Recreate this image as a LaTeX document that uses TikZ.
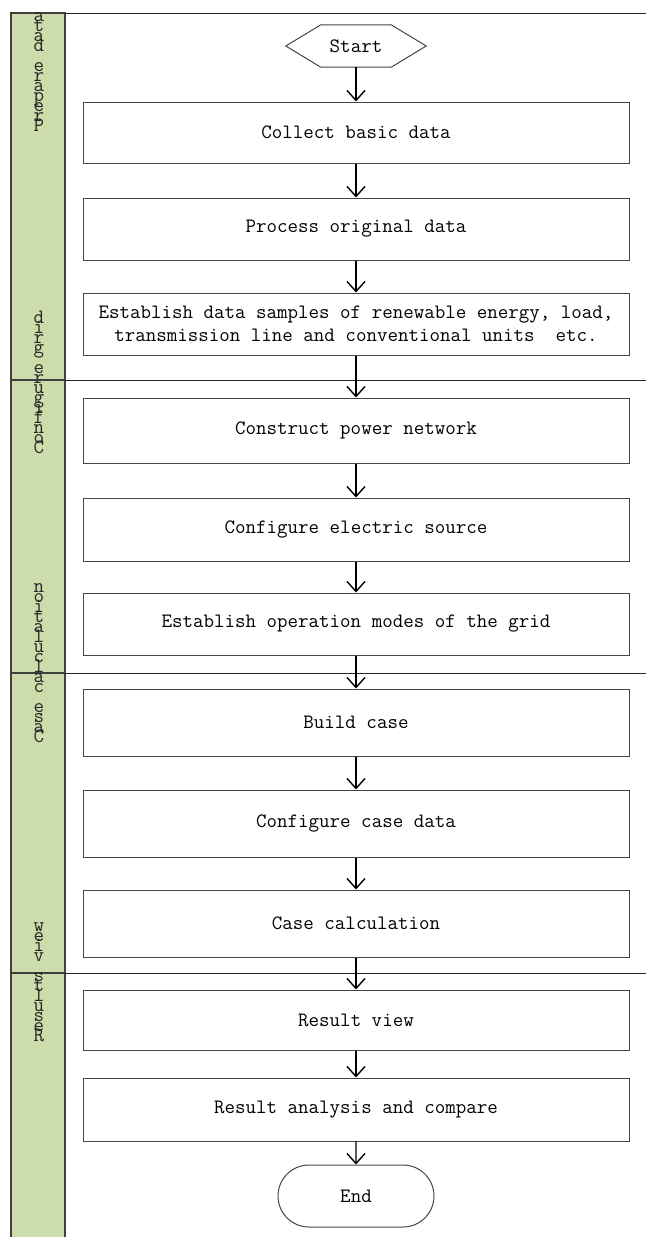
\documentclass[tikz,border=0pt]{standalone}
\usetikzlibrary{arrows.meta,shapes.misc}

\definecolor{lanegreen}{RGB}{204,220,170}
\definecolor{boxline}{RGB}{70,70,70}
\newcommand{\lanefont}{\ttfamily\fontsize{20.4}{10}\selectfont\lineskiplimit=-50pt\relax}

\tikzset{
  flowbox/.style={draw=boxline, line width=1pt, minimum width=546pt, minimum height=62pt,
    inner sep=0pt, align=center, text=black,
    font=\ttfamily\fontsize{20.4}{23}\selectfont},
  endbox/.style={flowbox, rounded rectangle, minimum width=156pt},
  flow/.style={line width=1.4pt, -{Straight Barb[length=10pt,width=18pt,line width=1.4pt]}},
  lanelabel/.style={anchor=north, inner sep=0pt, align=center, text=black!85,
    font=\lanefont},
  divider/.style={line width=1pt, black!85}
}

\begin{document}
\begin{tikzpicture}[x=1pt, y=-1pt]
\useasboundingbox (0,0) rectangle (646,1237);

% Lane column on the left
\fill[lanegreen] (11,13) rectangle (65,1237);
\draw[line width=1.3pt, black!75] (11,1237) -- (11,13) -- (65,13) -- (65,1237);

% Top line and lane dividers
\draw[divider] (65,13) -- (646,13);
\foreach \y in {380,673,973}
{
  \draw[divider] (11,\y) -- (646,\y);
  \draw[line width=2pt, black!75] (11,\y) -- (65,\y);
}

% Lane names (letters stacked bottom to top)
\node[lanelabel] (lane1) at (39,12) {a\\t\\a\\d\\~\\e\\r\\a\\p\\e\\r\\P};
\node[lanelabel] (lane2) at (39,311) {d\\i\\r\\g\\~\\e\\r\\u\\g\\i\\f\\n\\o\\C};
\node[lanelabel] (lane3) at (39,583) {n\\o\\i\\t\\a\\l\\u\\c\\l\\a\\c\\~\\e\\s\\a\\C};
\node[lanelabel] (lane4) at (39,922) {w\\e\\i\\v\\~\\s\\t\\l\\u\\s\\e\\R};

% Start (hexagon)
\node[minimum width=140pt, minimum height=42pt, inner sep=0pt, text=black,
  font=\ttfamily\fontsize{20.4}{23}\selectfont] (start) at (356,46) {Start};
\draw[boxline, line width=1pt] (start.west) -- ([xshift=35pt]start.north west)
  -- ([xshift=-35pt]start.north east) -- (start.east)
  -- ([xshift=-35pt]start.south east) -- ([xshift=35pt]start.south west) -- cycle;

% Steps
\node[flowbox, minimum height=61pt] (collect) at (356,132.5) {Collect basic data};
\node[flowbox] (process) at (356,229) {Process original data};
\node[flowbox] (samples) at (356,324) {Establish data samples of renewable energy, load,\\transmission line and conventional units\ \ etc.};
\node[flowbox, minimum height=65pt] (network) at (356,430.5) {Construct power network};
\node[flowbox, minimum height=63pt] (source) at (356,529.5) {Configure electric source};
\node[flowbox] (modes) at (356,624) {Establish operation modes of the grid};
\node[flowbox, minimum height=67pt] (build) at (356,722.5) {Build case};
\node[flowbox, minimum height=67pt] (casedata) at (356,823.5) {Configure case data};
\node[flowbox, minimum height=67pt] (calc) at (356,923.5) {Case calculation};
\node[flowbox, minimum height=60pt] (view) at (356,1020) {Result view};
\node[flowbox, minimum height=63pt] (analysis) at (356,1109.5) {Result analysis and compare};
\node[endbox] (end) at (356,1196) {End};

% Arrows
\foreach \a/\b in {start/collect, collect/process, process/samples, samples/network,
  network/source, source/modes, modes/build, build/casedata, casedata/calc,
  calc/view, view/analysis, analysis/end}
  \draw[flow] (\a) -- (\b);

\end{tikzpicture}
\end{document}
